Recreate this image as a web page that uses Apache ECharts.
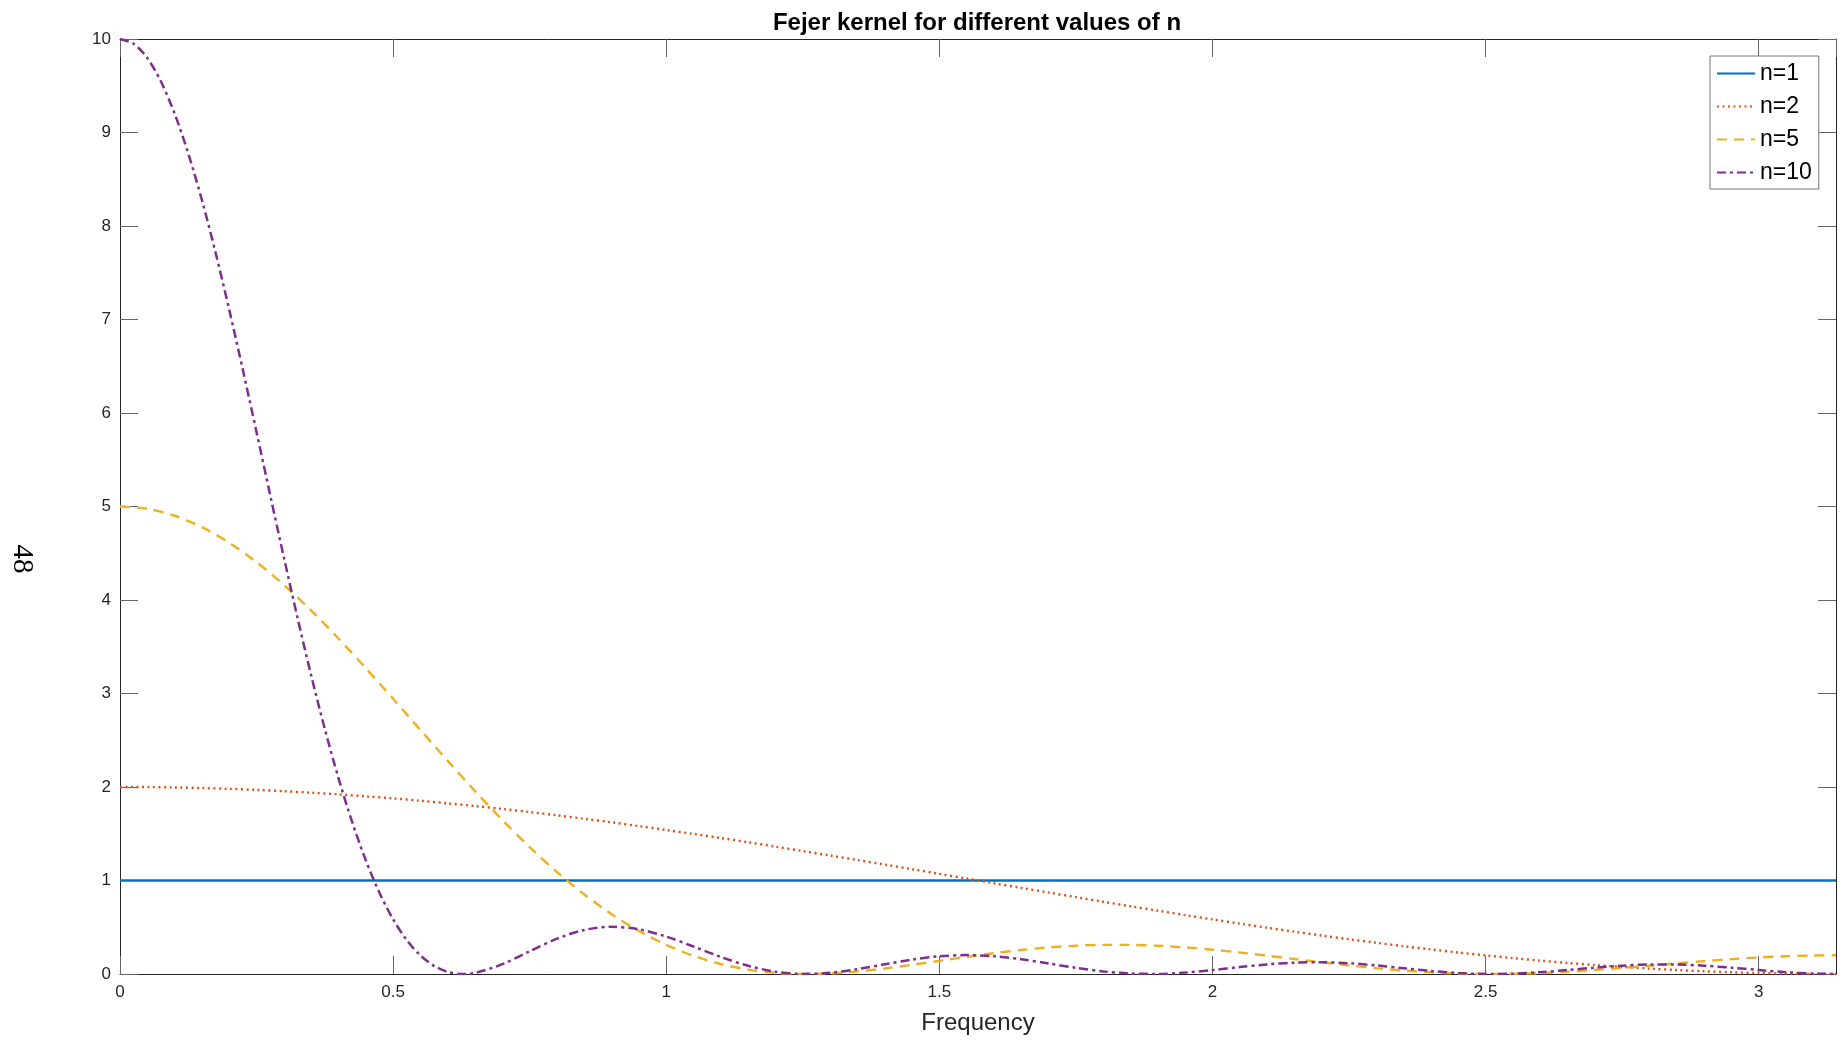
<!DOCTYPE html>
<html>
<head>
<meta charset="utf-8">
<script src="https://cdn.jsdelivr.net/npm/echarts@6/dist/echarts.min.js"></script>
<style>
html,body{margin:0;padding:0;background:#fff;}
#chart{width:1843px;height:1041px;}
</style>
</head>
<body>
<div id="chart"></div>
<script>
// Frequency samples
var freq = [0,0.05,0.1,0.15,0.2,0.25,0.3,0.35,0.4,0.45,0.5,0.55,0.6,0.65,0.7,0.75,0.8,0.85,0.9,0.95,
  1.0,1.05,1.1,1.15,1.2,1.25,1.3,1.35,1.4,1.45,1.5,1.55,1.6,1.65,1.7,1.75,1.8,1.85,1.9,1.95,
  2.0,2.05,2.1,2.15,2.2,2.25,2.3,2.35,2.4,2.45,2.5,2.55,2.6,2.65,2.7,2.75,2.8,2.85,2.9,2.95,
  3.0,3.05,3.1,3.1416];
var freq10 = [0,0.025,0.05,0.075,0.1,0.125,0.15,0.175,0.2,0.225,0.25,0.275,0.3,0.325,0.35,0.375,0.4,0.425,0.45,0.475,
  0.5,0.525,0.55,0.575,0.6,0.625,0.65,0.7,0.75,0.8,0.85,0.9,0.95,
  1.0,1.05,1.1,1.15,1.2,1.25,1.3,1.35,1.4,1.45,1.5,1.55,1.6,1.65,1.7,1.75,1.8,1.85,1.9,1.95,
  2.0,2.05,2.1,2.15,2.2,2.25,2.3,2.35,2.4,2.45,2.5,2.55,2.6,2.65,2.7,2.75,2.8,2.85,2.9,2.95,
  3.0,3.05,3.1,3.1416];
var freqN1 = [0, 3.1416];
var n1 = [1, 1];
var n2 = [2,1.999,1.995,1.989,1.980,1.969,1.955,1.939,1.921,1.900,1.878,1.853,1.825,1.796,1.765,1.732,1.697,1.660,1.622,1.582,
  1.540,1.498,1.454,1.409,1.362,1.315,1.267,1.219,1.170,1.121,1.071,1.021,0.971,0.921,0.871,0.822,0.773,0.724,0.677,0.630,
  0.584,0.539,0.495,0.453,0.411,0.372,0.334,0.297,0.263,0.230,0.199,0.170,0.143,0.118,0.096,0.076,0.058,0.042,0.029,0.018,
  0.010,0.004,0.001,0];
var n5 = [5,4.975,4.901,4.779,4.612,4.405,4.161,3.887,3.588,3.271,2.943,2.610,2.279,1.956,1.647,1.357,1.090,0.851,0.640,0.460,
  0.312,0.194,0.107,0.047,0.0125,0.0002,0.0064,0.0274,0.0593,0.0983,0.1406,0.1830,0.2226,0.2568,0.2838,0.3023,0.3115,0.3111,0.3018,0.2845,
  0.2597,0.2297,0.1961,0.1607,0.1253,0.0919,0.0620,0.0370,0.0180,0.0056,0.0002,0.0018,0.0100,0.0239,0.0425,0.0647,0.0889,0.1137,0.1375,0.1589,
  0.1769,0.1901,0.1979,0.2];
var n10 = [10,9.949,9.796,9.545,9.202,8.775,8.276,7.714,7.104,6.459,5.794,5.121,4.456,3.809,3.194,2.620,2.095,1.626,1.216,0.869,
  0.585,0.362,0.198,0.0866,0.0228,0.0003,0.0115,0.1047,0.2435,0.3777,0.4712,0.5051,0.4774,
  0.4001,0.2937,0.1822,0.0874,0.0245,0.0003,0.0126,0.0519,0.1040,0.1540,0.1894,0.2020,0.1902,0.1578,0.1130,0.0662,0.0277,0.0047,0.0009,0.0149,
  0.0418,0.0739,0.1028,0.1216,0.1259,0.1151,0.0920,0.0624,0.0331,0.0109,0.0005,0.0036,0.0190,0.0424,0.0679,0.0891,0.1010,0.1009,0.0887,0.0675,
  0.0425,0.0196,0.0043,0];
var seriesNames = ['n=1','n=2','n=5','n=10'];
var xTickLabels = ['0','0.5','1','1.5','2','2.5','3'];
var yTickLabels = ['0','1','2','3','4','5','6','7','8','9','10'];

function pairs(xs, ys){ return xs.map(function(x,i){ return [x, ys[i]]; }); }

var FONT = '"Liberation Sans", Arial, Helvetica, sans-serif';
var AX = '#262626';

function xAxisCfg(pos, showLabel){
  return {
    type:'value', position:pos, min:0, max:Math.PI, interval:0.5,
    axisLine:{show:true, onZero:false, lineStyle:{color:AX, width:1}},
    axisTick:{show:true, inside:true, length:18, lineStyle:{color:'#666', width:1}},
    axisLabel:{show:showLabel, fontSize:17, color:AX, fontFamily:FONT, margin:10,
      showMaxLabel:false,
      formatter:function(v){
        var idx = Math.round(v/0.5);
        if (Math.abs(v - idx*0.5) > 1e-6) return '';
        return xTickLabels[idx] || '';
      }},
    splitLine:{show:false}
  };
}
function yAxisCfg(pos, showLabel){
  return {
    type:'value', position:pos, min:0, max:10, interval:1,
    axisLine:{show:true, onZero:false, lineStyle:{color:AX, width:1}},
    axisTick:{show:true, inside:true, length:18, lineStyle:{color:'#666', width:1}},
    axisLabel:{show:showLabel, fontSize:17, color:AX, fontFamily:FONT, margin:9,
      formatter:function(v){ return yTickLabels[Math.round(v)]; }},
    splitLine:{show:false}
  };
}

var xa0 = xAxisCfg('bottom', true);
xa0.name = 'Frequency';
xa0.nameLocation = 'middle';
xa0.nameGap = 37;
xa0.nameTextStyle = {fontSize:24, color:AX, fontFamily:FONT};

var chart = echarts.init(document.getElementById('chart'));
chart.setOption({
  backgroundColor:'#ffffff',
  animation:false,
  title:{text:'Fejer kernel for different values of n', left:972, textAlign:'center', top:6,
    textStyle:{fontSize:24, fontWeight:'bold', color:'#000', fontFamily:FONT}},
  grid:{left:120, right:7, top:39, bottom:67, containLabel:false},
  xAxis:[xa0, xAxisCfg('top', false)],
  yAxis:[yAxisCfg('left', true), yAxisCfg('right', false)],
  legend:{
    orient:'vertical', left:1710, top:56, padding:[6,7,5,6], itemGap:10,
    itemWidth:38, itemHeight:14, backgroundColor:'#fff',
    borderColor:'#777', borderWidth:1, borderRadius:0,
    itemStyle:{color:'rgba(0,0,0,0)', borderWidth:0, opacity:0},
    textStyle:{fontSize:23, color:'#000', fontFamily:FONT},
    data:seriesNames
  },
  graphic:[{
    type:'text', x:22, y:559, rotation:-Math.PI/2,
    style:{text:'48', font:'29px "Liberation Serif", "DejaVu Serif", serif', fill:'#000',
      textAlign:'center', textVerticalAlign:'middle'}
  }],
  series:[
    {name:seriesNames[0], type:'line', data:pairs(freqN1, n1), showSymbol:false, symbol:'none',
      lineStyle:{color:'#0072BD', width:2.3, type:'solid'}, itemStyle:{color:'#0072BD'}},
    {name:seriesNames[1], type:'line', data:pairs(freq, n2), showSymbol:false, symbol:'none', smooth:0.3,
      lineStyle:{color:'#D95319', width:2.4, type:[2,3.5]}, itemStyle:{color:'#D95319'}},
    {name:seriesNames[2], type:'line', data:pairs(freq, n5), showSymbol:false, symbol:'none', smooth:0.3,
      lineStyle:{color:'#EDB120', width:2.4, type:[10,7]}, itemStyle:{color:'#EDB120'}},
    {name:seriesNames[3], type:'line', data:pairs(freq10, n10), showSymbol:false, symbol:'none', smooth:0.3,
      lineStyle:{color:'#7E2F8E', width:2.5, type:[9,4,3,4]}, itemStyle:{color:'#7E2F8E'}}
  ]
});
</script>
</body>
</html>
